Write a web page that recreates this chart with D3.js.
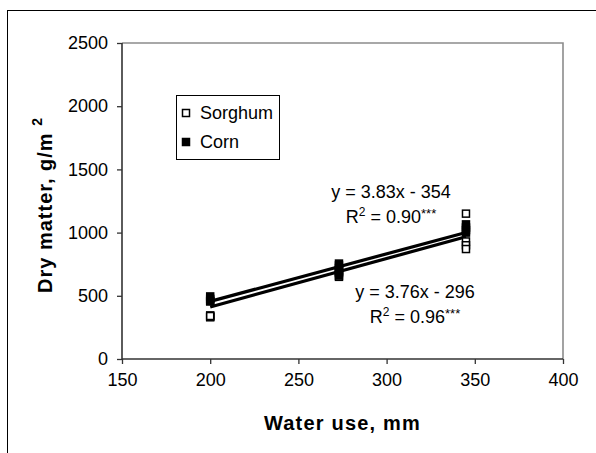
<!DOCTYPE html>
<html>
<head>
<meta charset="utf-8">
<script src="https://cdn.jsdelivr.net/npm/d3@7"></script>
<style>
  html, body { margin: 0; padding: 0; background: #fff; }
  svg { display: block; }
  text { font-family: Arial, "Liberation Sans", sans-serif; fill: #000; }
</style>
</head>
<body>
<svg id="chart" width="596" height="453"></svg>
<script>
// Water use levels (mm) and replicate dry matter values (g/m²)
const waterLevels = [200, 273, 345];
const sorghumValues = [
  [345, 335, 330, 340],
  [740, 700, 680, 650],
  [1150, 930, 900, 870]
];
const cornValues = [
  [495, 475, 460, 455],
  [755, 720, 690, 660],
  [1065, 1040, 1020, 1000]
];
// Fitted regressions: y = slope * x + intercept
const sorghumFit = { slope: 3.83, intercept: -354, r2: "0.90***" };
const cornFit = { slope: 3.76, intercept: -296, r2: "0.96***" };
const xTicks = [150, 200, 250, 300, 350, 400];
const yTicks = [0, 500, 1000, 1500, 2000, 2500];

const svg = d3.select("#chart");
const plot = { left: 122, right: 563, top: 43, bottom: 359 };

const x = d3.scaleLinear().domain([150, 400]).range([plot.left, plot.right]);
const y = d3.scaleLinear().domain([0, 2500]).range([plot.bottom, plot.top]);

// outer chart frame
svg.append("rect")
  .attr("x", 7.5).attr("y", 10.5)
  .attr("width", 620).attr("height", 460)
  .attr("fill", "none").attr("stroke", "#000").attr("stroke-width", 1);

// plot frame: top and right edges in gray
svg.append("path")
  .attr("d", `M${plot.left},${plot.top}H${plot.right}V${plot.bottom}`)
  .attr("fill", "none").attr("stroke", "#8c8c8c").attr("stroke-width", 1.6);

// axes
const xAxis = d3.axisBottom(x).tickValues(xTicks).tickSize(5).tickPadding(9).tickFormat(d3.format("d"));
const yAxis = d3.axisLeft(y).tickValues(yTicks).tickSize(5).tickPadding(9).tickFormat(d3.format("d"));

const gx = svg.append("g").attr("transform", `translate(0,${plot.bottom})`).call(xAxis);
const gy = svg.append("g").attr("transform", `translate(${plot.left},0)`).call(yAxis);
[gx, gy].forEach(g => {
  g.select(".domain").attr("stroke", "#333").attr("stroke-width", 1.6);
  g.selectAll(".tick line").attr("stroke", "#333").attr("stroke-width", 1.3);
  g.selectAll(".tick text")
    .style("font-family", "Arial, 'Liberation Sans', sans-serif")
    .style("font-size", "18px").attr("fill", "#000");
});
gx.select(".domain").attr("d", `M${plot.left},0H${plot.right}`);
gy.select(".domain").attr("d", `M0,${plot.bottom}V${plot.top}`);

// axis titles
svg.append("text")
  .attr("x", (plot.left + plot.right) / 2).attr("y", 430)
  .attr("text-anchor", "middle")
  .style("font-size", "20px").style("font-weight", "bold").style("letter-spacing", "1.2px")
  .text("Water use, mm");

const yTitle = svg.append("text")
  .attr("transform", `translate(52,${(plot.top + plot.bottom) / 2 + 4}) rotate(-90)`)
  .attr("text-anchor", "middle")
  .style("font-size", "20px").style("font-weight", "bold").style("letter-spacing", "1px");
yTitle.append("tspan").text("Dry matter, g/m ");
yTitle.append("tspan").attr("dy", -10).style("font-size", "14px").text("2");

// regression lines across the measured water-use range
const xMin = d3.min(waterLevels), xMax = d3.max(waterLevels);
const lineGen = d3.line().x(d => x(d[0])).y(d => y(d[1]));
[sorghumFit, cornFit].forEach(f => {
  svg.append("path")
    .datum([xMin, xMax].map(v => [v, f.slope * v + f.intercept]))
    .attr("d", lineGen)
    .attr("fill", "none").attr("stroke", "#000").attr("stroke-width", 3.2);
});

// markers
const size = 7;
function drawSeries(values, filled) {
  const pts = [];
  values.forEach((reps, i) => reps.forEach(v => pts.push([waterLevels[i], v])));
  svg.append("g").selectAll("rect").data(pts).join("rect")
    .attr("x", d => x(d[0]) - size / 2)
    .attr("y", d => y(d[1]) - size / 2)
    .attr("width", size).attr("height", size)
    .attr("fill", filled ? "#000" : "#fff")
    .attr("stroke", "#000").attr("stroke-width", 1.5);
}
drawSeries(sorghumValues, false);
drawSeries(cornValues, true);

// equation labels
function fitLabel(f, cx, y1) {
  const sign = f.intercept < 0 ? "-" : "+";
  svg.append("text").attr("x", cx).attr("y", y1).attr("text-anchor", "middle")
    .style("font-size", "18px")
    .text(`y = ${f.slope.toFixed(2)}x ${sign} ${Math.abs(f.intercept)}`);
  const t = svg.append("text").attr("x", cx).attr("y", y1 + 25).attr("text-anchor", "middle")
    .style("font-size", "18px");
  t.append("tspan").text("R");
  t.append("tspan").attr("dy", -7).style("font-size", "12px").text("2");
  t.append("tspan").attr("dy", 7).text(" = " + f.r2.replace(/\*+$/, ""));
  t.append("tspan").attr("dy", -5).style("font-size", "13px").text(f.r2.match(/\*+$/)[0]);
}
fitLabel(sorghumFit, 391, 198);
fitLabel(cornFit, 415, 298);

// legend
const lg = svg.append("g");
lg.append("rect").attr("x", 176.5).attr("y", 95.5).attr("width", 103).attr("height", 64)
  .attr("fill", "#fff").attr("stroke", "#000").attr("stroke-width", 1);
const entries = [["Sorghum", false, 113], ["Corn", true, 142]];
entries.forEach(([name, filled, cy]) => {
  lg.append("rect").attr("x", 186 - size / 2).attr("y", cy - size / 2)
    .attr("width", size).attr("height", size)
    .attr("fill", filled ? "#000" : "#fff").attr("stroke", "#000").attr("stroke-width", 1.5);
  lg.append("text").attr("x", 200).attr("y", cy + 6).style("font-size", "18px").text(name);
});
</script>
</body>
</html>
